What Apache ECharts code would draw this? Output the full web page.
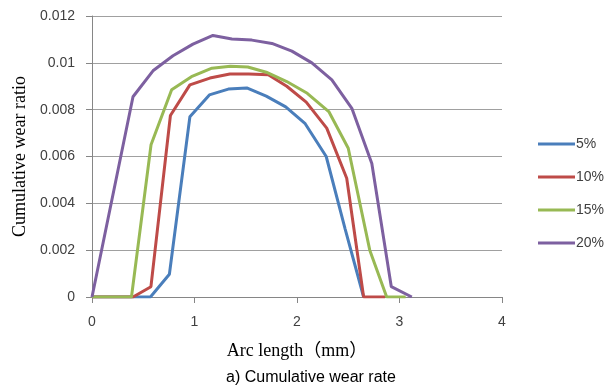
<!DOCTYPE html>
<html>
<head>
<meta charset="utf-8">
<script src="https://cdn.jsdelivr.net/npm/echarts@6/dist/echarts.min.js"></script>
<style>html,body{margin:0;padding:0;background:#fff;}#c{width:616px;height:390px;}</style>
</head>
<body>
<div id="c"></div>
<script>
var seriesNames = ['5%', '10%', '15%', '20%'];
var xBlue = [0, 0.38, 0.57, 0.755, 0.955, 1.145, 1.33, 1.51, 1.70, 1.89, 2.08, 2.285, 2.47, 2.65];
var yBlue = [0, 0, 0, 0.00097, 0.0077, 0.00863, 0.00888, 0.00893, 0.00858, 0.00812, 0.0074, 0.0060, 0.0029, 0];
var xRed = [0, 0.40, 0.575, 0.765, 0.955, 1.15, 1.345, 1.53, 1.72, 1.90, 2.09, 2.29, 2.485, 2.65, 2.86];
var yRed = [0, 0, 0.00044, 0.00775, 0.00906, 0.00935, 0.00952, 0.00952, 0.00949, 0.00900, 0.00832, 0.00721, 0.00507, 0, 0];
var xGreen = [0, 0.385, 0.576, 0.777, 0.97, 1.17, 1.35, 1.52, 1.70, 1.90, 2.10, 2.31, 2.50, 2.71, 2.875, 3.06];
var yGreen = [0, 0, 0.0065, 0.00885, 0.00941, 0.00977, 0.00985, 0.00982, 0.0096, 0.0092, 0.0087, 0.00792, 0.00635, 0.0020, 0, 0];
var xPurple = [0, 0.40, 0.595, 0.79, 0.985, 1.18, 1.365, 1.56, 1.755, 1.95, 2.145, 2.34, 2.535, 2.73, 2.92, 3.12];
var yPurple = [0, 0.00855, 0.00966, 0.0103, 0.0108, 0.01117, 0.01102, 0.01097, 0.01083, 0.0105, 0.0100, 0.00927, 0.00806, 0.0057, 0.00044, 0];
var xTicks = [0, 1, 2, 3, 4];
var yTickStep = 0.002;
var colors = ['#4A7EBB', '#BE4B48', '#98B954', '#7D60A0'];

function pairs(xs, ys) { return xs.map(function (x, i) { return [x, ys[i]]; }); }
var allX = [xBlue, xRed, xGreen, xPurple];
var allY = [yBlue, yRed, yGreen, yPurple];

var chart = echarts.init(document.getElementById('c'), null, {renderer: 'canvas'});
chart.setOption({
  animation: false,
  backgroundColor: '#fff',
  color: colors,
  grid: {left: 92, right: 114, top: 16, bottom: 93, containLabel: false},
  title: {
    text: 'a) Cumulative wear rate',
    left: 306, top: 365, textAlign: 'center',
    textStyle: {fontFamily: 'Liberation Sans', fontSize: 16, fontWeight: 'normal', color: '#000'}
  },
  legend: {
    orient: 'vertical', left: 533, top: 131,
    icon: 'rect', itemWidth: 37, itemHeight: 3, itemGap: 17,
    data: seriesNames,
    textStyle: {fontFamily: 'Liberation Sans', fontSize: 14, color: '#404040', padding: [0, 0, 0, -4], lineHeight: 16}
  },
  xAxis: {
    type: 'value', min: xTicks[0], max: xTicks[xTicks.length - 1], interval: 1,
    name: 'Arc length（mm）', nameLocation: 'middle', nameGap: 45,
    nameTextStyle: {fontFamily: 'Liberation Serif, Noto Sans CJK SC', fontSize: 18, color: '#000'},
    axisLine: {show: true, lineStyle: {color: '#868686', width: 1}},
    axisTick: {show: true, length: 6, lineStyle: {color: '#868686'}},
    axisLabel: {margin: 18, fontFamily: 'Liberation Sans', fontSize: 14, color: '#404040'},
    splitLine: {show: false}
  },
  yAxis: {
    type: 'value', min: 0, max: 0.012, interval: yTickStep,
    name: 'Cumulative wear ratio', nameLocation: 'middle', nameGap: 63,
    nameTextStyle: {fontFamily: 'Liberation Serif', fontSize: 18, color: '#000'},
    axisLine: {show: true, lineStyle: {color: '#868686', width: 1}},
    axisTick: {show: true, length: 6, inside: false, lineStyle: {color: '#868686'}},
    axisLabel: {margin: 17, fontFamily: 'Liberation Sans', fontSize: 14, color: '#404040',
      formatter: function (v) { return v === 0 ? '0' : String(+v.toFixed(3)); }},
    splitLine: {show: true, lineStyle: {color: '#A0A0A0', width: 1}}
  },
  series: seriesNames.map(function (n, i) {
    return {
      name: n, type: 'line', data: pairs(allX[i], allY[i]),
      symbol: 'none', lineStyle: {width: 3, color: colors[i]}, itemStyle: {color: colors[i]}
    };
  })
});
</script>
</body>
</html>
